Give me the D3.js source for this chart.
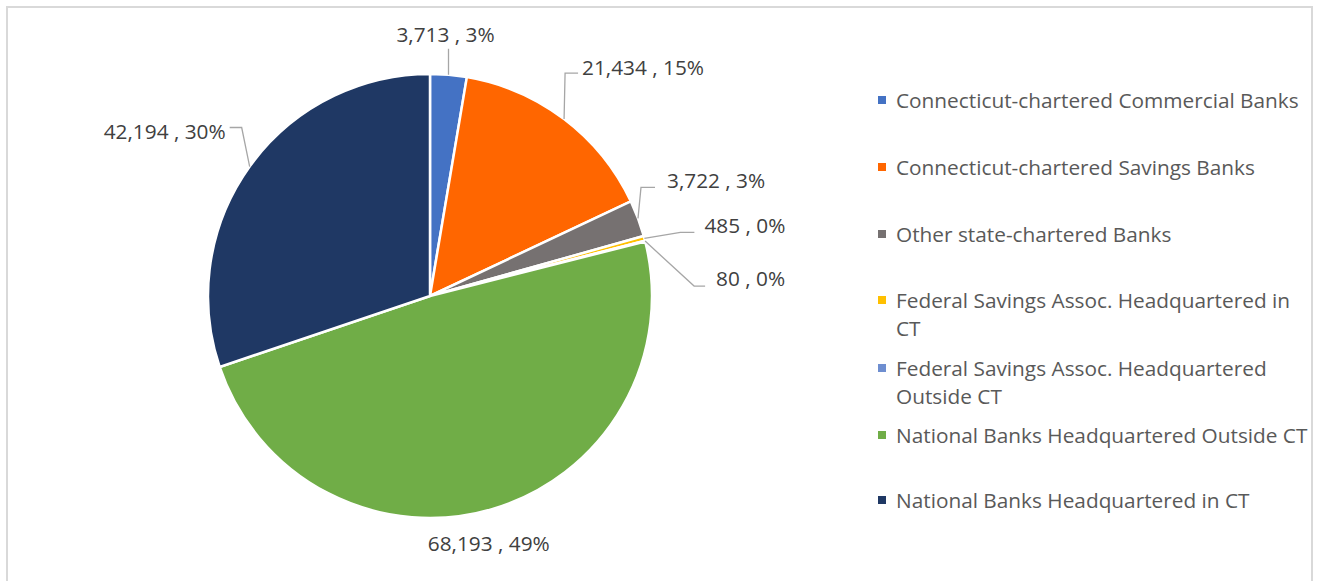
<!DOCTYPE html>
<html>
<head>
<meta charset="utf-8">
<script src="https://cdn.jsdelivr.net/npm/d3@7"></script>
<style>
  html, body { margin: 0; padding: 0; background: #fff; }
  svg { display: block; }
  text { font-family: "Open Sans", "Noto Sans", sans-serif; }
</style>
</head>
<body>
<svg id="chart" width="1322" height="581"></svg>
<script>
// Deposits by institution type
const categories = [
  "Connecticut-chartered Commercial Banks",
  "Connecticut-chartered Savings Banks",
  "Other state-chartered Banks",
  "Federal Savings Assoc. Headquartered in CT",
  "Federal Savings Assoc. Headquartered Outside CT",
  "National Banks Headquartered Outside CT",
  "National Banks Headquartered in CT"
];
const values = [3713, 21434, 3722, 485, 80, 68193, 42194];
const colors = ["#4472C4", "#FF6600", "#767171", "#FFC000", "#6E8ED0", "#70AD47", "#1F3864"];

// Legend text broken into lines as wrapped in the legend box
const legendLines = [
  ["Connecticut-chartered Commercial Banks"],
  ["Connecticut-chartered Savings Banks"],
  ["Other state-chartered Banks"],
  ["Federal Savings Assoc. Headquartered in", "CT"],
  ["Federal Savings Assoc. Headquartered", "Outside CT"],
  ["National Banks Headquartered Outside CT"],
  ["National Banks Headquartered in CT"]
];

// Data-label placement: text position and leader bend, relative to the slice's edge point
const labelLayout = [
  { dx: -3,  dy: -41, anchor: "middle", bend: [[0, -26]] },
  { dx: 18,  dy: -52, anchor: "start",  bend: [[1, -46], [14, -46]] },
  { dx: 29,  dy: -38, anchor: "start",  bend: [[3, -31], [17, -31]] },
  { dx: 60,  dy: -13, anchor: "start",  bend: [[36, -6], [50, -6]] },
  { dx: 71,  dy: 37,  anchor: "start",  bend: [[49, 45], [60, 45]] },
  { dx: -4,  dy: 34,  anchor: "middle", bend: [] },
  { dx: -24, dy: -36, anchor: "end",    bend: [[-8, -39], [-20, -39]] }
];

const svg = d3.select("#chart");
const cx = 430, cy = 296, radius = 222;

// Chart area border
svg.append("rect")
  .attr("x", 7).attr("y", 7)
  .attr("width", 1305).attr("height", 600)
  .attr("fill", "none")
  .attr("stroke", "#D9D9D9")
  .attr("stroke-width", 2);

const data = categories.map((c, i) => ({ name: c, value: values[i], color: colors[i], i }));
const total = d3.sum(values);

const pie = d3.pie().value(d => d.value).sort(null);
const arcs = pie(data);
const arc = d3.arc().innerRadius(0).outerRadius(radius);

const g = svg.append("g").attr("transform", `translate(${cx},${cy})`);

g.selectAll("path.slice")
  .data(arcs)
  .join("path")
  .attr("class", "slice")
  .attr("d", arc)
  .attr("fill", d => d.data.color)
  .attr("stroke", "#fff")
  .attr("stroke-width", 2.5)
  .attr("stroke-linejoin", "round");

const fmtNum = d3.format(",");
const fmtPct = d3.format(".0%");

// Leader lines and labels
arcs.forEach((a, i) => {
  const mid = (a.startAngle + a.endAngle) / 2;
  const px = radius * Math.sin(mid);
  const py = -radius * Math.cos(mid);
  const L = labelLayout[i];
  if (L.bend.length) {
    const pts = [[px, py]].concat(L.bend.map(b => [px + b[0], py + b[1]]));
    g.append("path")
      .attr("d", d3.line()(pts))
      .attr("fill", "none")
      .attr("stroke", "#A6A6A6")
      .attr("stroke-width", 1.3);
  }
  g.append("text")
    .attr("x", px + L.dx)
    .attr("y", py + L.dy)
    .attr("text-anchor", L.anchor)
    .attr("dominant-baseline", "central")
    .attr("font-size", 20.8)
    .attr("fill", "#404040")
    .text(`${fmtNum(a.data.value)} , ${fmtPct(a.data.value / total)}`);
});

// Legend
const legendX = 878, textX = 896;
const rowY = [100, 167, 234, 300, 368, 435, 500];
const lineH = 28;
const lg = svg.append("g");
data.forEach((d, i) => {
  lg.append("rect")
    .attr("x", legendX).attr("y", rowY[i] - 4)
    .attr("width", 8).attr("height", 8)
    .attr("fill", d.color);
  const t = lg.append("text")
    .attr("x", textX).attr("y", rowY[i])
    .attr("dominant-baseline", "central")
    .attr("font-size", 20.8)
    .attr("fill", "#595959");
  legendLines[i].forEach((ln, k) => {
    t.append("tspan").attr("x", textX).attr("y", rowY[i] + k * lineH).text(ln);
  });
});
</script>
</body>
</html>
